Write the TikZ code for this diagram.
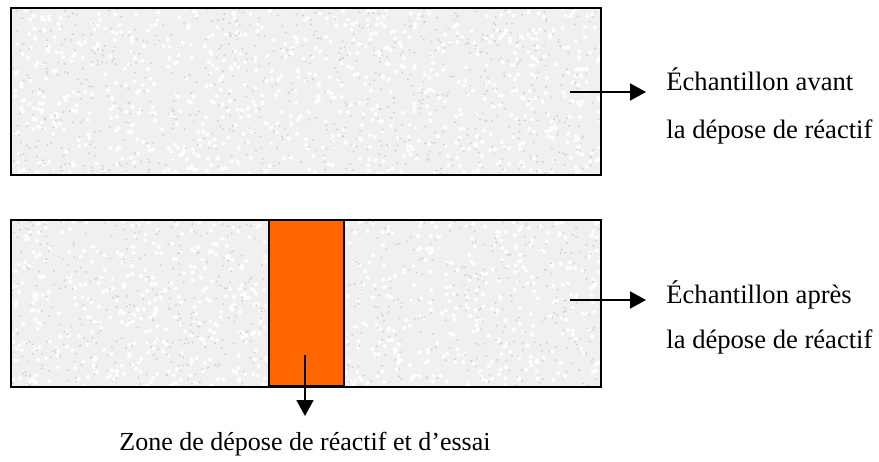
\documentclass[tikz,border=0pt]{standalone}
\usepackage{fontspec}
\setmainfont{Liberation Serif}
\usetikzlibrary{arrows.meta}
\definecolor{zoneorange}{HTML}{FF6600}
\tikzset{
  sample/.style={draw=black, line width=1pt},
  reagent/.style={draw=black, line width=1pt, fill=zoneorange},
  pointer/.style={line width=1pt, -{Triangle[length=8pt,width=8.5pt]}},
  desc/.style={anchor=base west, inner sep=0pt, font=\fontsize{13.3}{16}\selectfont}
}
\begin{document}
\begin{tikzpicture}[x=0.5pt,y=-0.5pt]
\useasboundingbox (0,0) rectangle (879,461);
% speckled samples
\pgfmathsetseed{12}
\foreach \ytop in {8,220}{
  \begin{scope}
    \clip (11,\ytop) rectangle (601,\ytop+167);
    \fill[gray!12] (11,\ytop) rectangle (601,\ytop+167);
    \foreach \i in {1,...,800}{
      \pgfmathsetmacro{\px}{11+590*rnd}
      \pgfmathsetmacro{\py}{\ytop+167*rnd}
      \fill[white] (\px,\py) circle (1pt);
    }
    \foreach \i in {1,...,700}{
      \pgfmathsetmacro{\px}{11+590*rnd}
      \pgfmathsetmacro{\py}{\ytop+167*rnd}
      \fill[gray!35] (\px,\py) circle (0.55pt);
    }
  \end{scope}
  \draw[sample] (11,\ytop) rectangle (601,\ytop+167);
}
% reagent zone
\draw[reagent] (269,220) rectangle (344,386);

% labels
\node[desc] (avant1) at (666,90) {Échantillon avant};
\node[desc] (avant2) at (666,138) {la dépose de réactif};
\node[desc] (apres1) at (666,303) {Échantillon après};
\node[desc] (apres2) at (666,348) {la dépose de réactif};
\node[font=\fontsize{13}{16}\selectfont, anchor=base, inner sep=0pt] (zonetxt) at (305,450) {Zone de dépose de réactif et d’essai};

% arrows
\coordinate (avantfrom) at (570,92);
\coordinate (avantto) at (646,92);
\coordinate (apresfrom) at (570,300);
\coordinate (apresto) at (646,300);
\coordinate (zonefrom) at (305,355);
\coordinate (zoneto) at (305,416);
\draw[pointer] (avantfrom) -- (avantto);
\draw[pointer] (apresfrom) -- (apresto);
\draw[pointer] (zonefrom) -- (zoneto);
\end{tikzpicture}
\end{document}
